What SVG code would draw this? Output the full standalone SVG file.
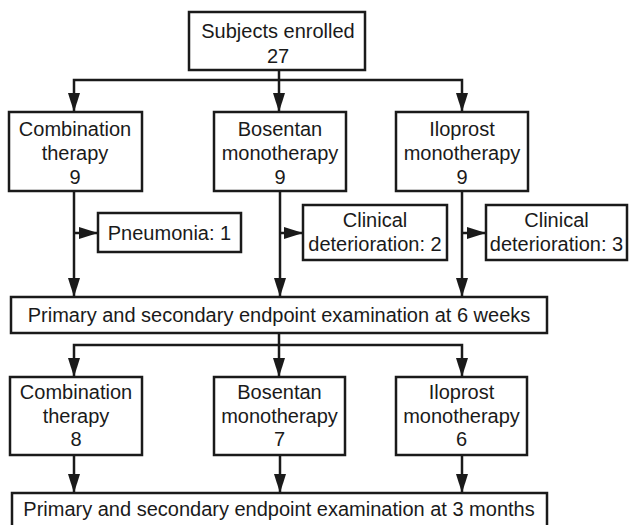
<svg xmlns="http://www.w3.org/2000/svg" width="629" height="525" viewBox="0 0 629 525">
<defs>
<marker id="ah" markerUnits="userSpaceOnUse" markerWidth="19" markerHeight="12" refX="19" refY="6" orient="auto">
<path d="M0,0 L19,6 L0,12 z" fill="#1a1a1a"/>
</marker>
<style>
.box{fill:#fff;stroke:#1a1a1a;stroke-width:2.5}
.ln{fill:none;stroke:#1a1a1a;stroke-width:2.5;stroke-linejoin:miter}
.ar{fill:none;stroke:#1a1a1a;stroke-width:2.5;marker-end:url(#ah)}
text{font-family:"Liberation Sans",Arial,sans-serif;font-size:20px;fill:#1a1a1a;text-anchor:middle}
</style>
</defs>
<rect width="629" height="525" fill="#fff"/>
<g id="connectors">
<path class="ar" d="M279,70 V112"/>
<path class="ar" d="M279,80 H74 V112"/>
<path class="ar" d="M279,80 H462 V112"/>
<path class="ar" d="M74,191 V297"/>
<path class="ar" d="M280,191 V297"/>
<path class="ar" d="M462,191 V297"/>
<path class="ar" d="M74,233 H98"/>
<path class="ar" d="M280,233 H303"/>
<path class="ar" d="M462,233 H486"/>
<path class="ar" d="M279,333 V377"/>
<path class="ar" d="M279,345 H74 V377"/>
<path class="ar" d="M279,345 H462 V377"/>
<path class="ar" d="M74,455 V493"/>
<path class="ar" d="M280,455 V493"/>
<path class="ar" d="M462,455 V493"/>
</g>
<g id="enrolled"><rect class="box" x="189" y="12" width="176" height="58"/><text x="278" y="38">Subjects enrolled</text><text x="278" y="63">27</text></g>
<g id="combo1"><rect class="box" x="9" y="112" width="133" height="79"/><text x="75" y="136">Combination</text><text x="75" y="160">therapy</text><text x="75" y="184">9</text></g>
<g id="bosentan1"><rect class="box" x="214" y="112" width="132" height="79"/><text x="280" y="136">Bosentan</text><text x="280" y="160">monotherapy</text><text x="280" y="184">9</text></g>
<g id="iloprost1"><rect class="box" x="396" y="112" width="132" height="79"/><text x="462" y="136">Iloprost</text><text x="462" y="160">monotherapy</text><text x="462" y="184">9</text></g>
<g id="pneumonia"><rect class="box" x="98" y="213" width="143" height="39"/><text x="169.5" y="240">Pneumonia: 1</text></g>
<g id="clin2"><rect class="box" x="303" y="205" width="144" height="55"/><text x="375" y="227">Clinical</text><text x="375" y="251">deterioration: 2</text></g>
<g id="clin3"><rect class="box" x="486" y="205" width="141" height="55"/><text x="556.5" y="227">Clinical</text><text x="556.5" y="251">deterioration: 3</text></g>
<g id="week6"><rect class="box" x="11" y="297" width="536" height="36"/><text x="279" y="322">Primary and secondary endpoint examination at 6 weeks</text></g>
<g id="combo2"><rect class="box" x="10" y="377" width="132" height="78"/><text x="76" y="399">Combination</text><text x="76" y="423">therapy</text><text x="76" y="446">8</text></g>
<g id="bosentan2"><rect class="box" x="214" y="377" width="131" height="78"/><text x="279.5" y="399">Bosentan</text><text x="279.5" y="423">monotherapy</text><text x="279.5" y="446">7</text></g>
<g id="iloprost2"><rect class="box" x="396" y="377" width="131" height="78"/><text x="461.5" y="399">Iloprost</text><text x="461.5" y="423">monotherapy</text><text x="461.5" y="446">6</text></g>
<g id="month3"><rect class="box" x="12" y="493" width="535" height="40"/><text x="279" y="516">Primary and secondary endpoint examination at 3 months</text></g>
</svg>
